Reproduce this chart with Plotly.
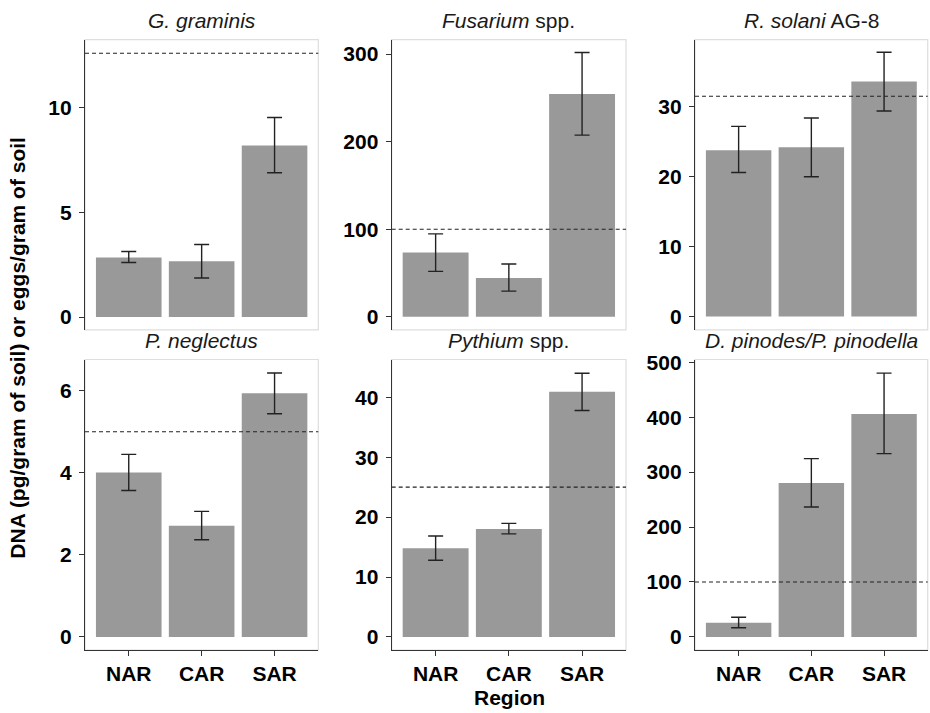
import plotly.graph_objects as go

# ---------------- data ----------------
regions = ["NAR", "CAR", "SAR"]

titles = [
    "<i>G. graminis</i>",
    "<i>Fusarium</i> spp.",
    "<i>R. solani</i> AG-8",
    "<i>P. neglectus</i>",
    "<i>Pythium</i> spp.",
    "<i>D. pinodes/P. pinodella</i>",
]

g_graminis_mean = [2.85, 2.67, 8.19]
g_graminis_low = [2.61, 1.87, 6.89]
g_graminis_high = [3.13, 3.47, 9.53]

fusarium_mean = [73.3, 44.4, 254.5]
fusarium_low = [51.9, 29.3, 207.5]
fusarium_high = [94.7, 60.2, 301.9]

r_solani_mean = [23.8, 24.2, 33.6]
r_solani_low = [20.6, 20.0, 29.4]
r_solani_high = [27.2, 28.4, 37.8]

p_neglectus_mean = [4.01, 2.71, 5.94]
p_neglectus_low = [3.57, 2.37, 5.44]
p_neglectus_high = [4.45, 3.06, 6.43]

pythium_mean = [14.8, 18.0, 40.9]
pythium_low = [12.8, 17.2, 37.8]
pythium_high = [16.85, 18.95, 44.0]

d_pinodes_mean = [25.7, 280.3, 406.0]
d_pinodes_low = [16.8, 236.6, 333.6]
d_pinodes_high = [35.9, 324.6, 480.2]

thresholds = [12.6, 100, 31.5, 5, 25, 100]

y_ticks = [
    [0, 5, 10],
    [0, 100, 200, 300],
    [0, 10, 20, 30],
    [0, 2, 4, 6],
    [0, 10, 20, 30, 40],
    [0, 100, 200, 300, 400, 500],
]

# ---------------- layout geometry (pixels) ----------------
W, H = 930, 713
col_px = [(85, 318.3), (391.7, 626.0), (695, 927.7)]
row_px = [(31, 325), (355, 649.3)]
y_ranges = [
    [-0.61, 13.25],
    [-15, 316.6],
    [-1.9, 39.6],
    [-0.32, 6.76],
    [-2.2, 46.3],
    [-24, 505],
]

FONT = "Liberation Sans, Arial, sans-serif"
BAR_COLOR = "#999999"
DARK = "#333333"
FRAME = "#dedede"

panels = [
    (g_graminis_mean, g_graminis_low, g_graminis_high),
    (fusarium_mean, fusarium_low, fusarium_high),
    (r_solani_mean, r_solani_low, r_solani_high),
    (p_neglectus_mean, p_neglectus_low, p_neglectus_high),
    (pythium_mean, pythium_low, pythium_high),
    (d_pinodes_mean, d_pinodes_low, d_pinodes_high),
]

fig = go.Figure()
layout = dict(
    width=W, height=H,
    margin=dict(l=0, r=0, t=0, b=0),
    paper_bgcolor="white", plot_bgcolor="white",
    showlegend=False,
    font=dict(family=FONT, color="black"),
    bargap=0.1,
)
shapes = []
annotations = []

for i, (mean, low, high) in enumerate(panels):
    r, c = divmod(i, 3)
    n = i + 1
    xa = "x" if n == 1 else f"x{n}"
    ya = "y" if n == 1 else f"y{n}"
    fig.add_trace(go.Bar(
        x=regions, y=mean, xaxis=xa, yaxis=ya,
        marker=dict(color=BAR_COLOR, line=dict(width=0)),
        width=0.9,
        error_y=dict(
            type="data", symmetric=False,
            array=[h - m for h, m in zip(high, mean)],
            arrayminus=[m - l for m, l in zip(mean, low)],
            color="#222222", thickness=1.4, width=7.5,
        ),
        hoverinfo="skip",
    ))
    x0, x1 = col_px[c]
    y0, y1 = row_px[r]
    xdom = [x0 / W, x1 / W]
    ydom = [1 - y1 / H, 1 - y0 / H]
    bottom = (r == 1)
    layout["xaxis" if n == 1 else f"xaxis{n}"] = dict(
        domain=xdom, anchor=ya, type="category",
        range=[-0.6, 2.6],
        showgrid=False, zeroline=False,
        showline=bottom, linecolor=DARK, linewidth=1.3,
        ticks="outside" if bottom else "", ticklen=5, tickwidth=1.3, tickcolor=DARK,
        showticklabels=bottom,
        tickfont=dict(family=FONT, size=21, color="black", weight="bold"),
        fixedrange=True,
    )
    layout["yaxis" if n == 1 else f"yaxis{n}"] = dict(
        domain=ydom, anchor=xa,
        range=y_ranges[i],
        tickvals=y_ticks[i],
        showgrid=False, zeroline=False,
        showline=True, linecolor=DARK, linewidth=1.3,
        ticks="outside", ticklen=5, tickwidth=1.3, tickcolor=DARK,
        ticklabelstandoff=3,
        tickfont=dict(family=FONT, size=21, color="black", weight="bold"),
        fixedrange=True,
    )
    # light panel frame
    shapes.append(dict(
        type="rect", xref="paper", yref="paper",
        x0=xdom[0], x1=xdom[1], y0=ydom[0], y1=ydom[1],
        line=dict(color=FRAME, width=1.2), layer="below",
    ))
    # threshold dashed line
    shapes.append(dict(
        type="line", xref=f"{xa} domain", yref=ya,
        x0=0, x1=1, y0=thresholds[i], y1=thresholds[i],
        line=dict(color="#222222", width=1.1, dash="4px,3px"), layer="above",
    ))
    # panel title
    annotations.append(dict(
        text=titles[i], xref="paper", yref="paper",
        x=(xdom[0] + xdom[1]) / 2, y=ydom[1],
        xanchor="center", yanchor="bottom", showarrow=False,
        font=dict(family=FONT, size=21, color="#1a1a1a"),
        yshift=6,
    ))

annotations.append(dict(
    text="<b>DNA (pg/gram of soil) or eggs/gram of soil</b>",
    xref="paper", yref="paper", x=18 / W, y=1 - 343 / H,
    xanchor="center", yanchor="middle", textangle=-90, showarrow=False,
    font=dict(family=FONT, size=21, color="black"),
))
annotations.append(dict(
    text="<b>Region</b>",
    xref="paper", yref="paper", x=509 / W, y=1 - 697 / H,
    xanchor="center", yanchor="middle", showarrow=False,
    font=dict(family=FONT, size=21, color="black"),
))

layout["shapes"] = shapes
layout["annotations"] = annotations
fig.update_layout(**layout)
fig.write_html("out.html")
